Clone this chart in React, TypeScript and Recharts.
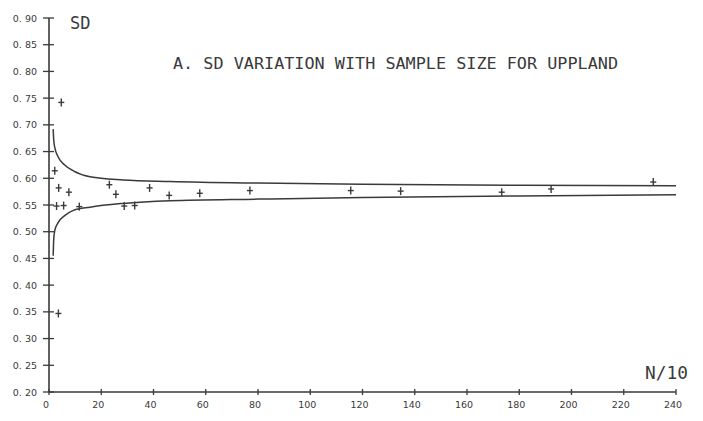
import { ComposedChart, Line, Scatter, XAxis, YAxis } from "recharts";

const xTicks = [0, 20, 40, 60, 80, 100, 120, 140, 160, 180, 200, 220, 240];
const yTicks = [0.2, 0.25, 0.3, 0.35, 0.4, 0.45, 0.5, 0.55, 0.6, 0.65, 0.7, 0.75, 0.8, 0.85, 0.9];

// observed SD per sample (N/10, SD)
const sampleN = [4.7, 2.2, 3.7, 7.6, 2.9, 5.6, 11.6, 23.1, 25.6, 28.8, 32.8, 38.5, 46.0, 57.7, 76.9, 115.5, 134.6, 173.3, 192.2, 231.3, 3.6];
const sampleSD = [0.742, 0.614, 0.582, 0.574, 0.548, 0.549, 0.547, 0.588, 0.57, 0.548, 0.549, 0.582, 0.568, 0.572, 0.577, 0.577, 0.576, 0.574, 0.58, 0.593, 0.347];

// confidence limits
const limitN = [1.6, 1.8, 2.2, 3.6, 6, 9.3, 15.7, 28.4, 46.3, 80, 120, 180, 240];
const upperSD = [0.692, 0.672, 0.658, 0.639, 0.625, 0.614, 0.603, 0.597, 0.594, 0.591, 0.589, 0.587, 0.586];
const lowerSD = [0.455, 0.485, 0.502, 0.518, 0.53, 0.54, 0.546, 0.553, 0.558, 0.561, 0.564, 0.567, 0.569];

const points = sampleN.map((n, i) => ({ x: n, y: sampleSD[i] }));
const upper = limitN.map((n, i) => ({ x: n, y: upperSD[i] }));
const lower = limitN.map((n, i) => ({ x: n, y: lowerSD[i] }));

const ink = "#3a3a3a";
const font = "'DejaVu Sans', sans-serif";

function Plus(props: any) {
  const { cx, cy } = props;
  return (
    <g stroke={ink} strokeWidth={1.4}>
      <line x1={cx - 3} x2={cx + 3} y1={cy} y2={cy} />
      <line x1={cx} x2={cx} y1={cy - 4} y2={cy + 4} />
    </g>
  );
}

function YTick(props: any) {
  const { x, y, payload } = props;
  const label = payload.value.toFixed(2).replace(".", ". ");
  return (
    <g>
      <line x1={x - 6} x2={x + 5} y1={y} y2={y} stroke={ink} strokeWidth={1.3} />
      <text x={x - 12} y={y} textAnchor="end" dominantBaseline="central" fontSize={9.5} fill={ink} fontFamily={font}>
        {label}
      </text>
    </g>
  );
}

function XTick(props: any) {
  const { x, y, payload } = props;
  return (
    <g>
      <line x1={x} x2={x} y1={y - 3} y2={y + 3} stroke={ink} strokeWidth={1.3} />
      <text x={x - 3} y={y + 12} textAnchor="middle" dominantBaseline="central" fontSize={9.5} fill={ink} fontFamily={font}>
        {payload.value}
      </text>
    </g>
  );
}

export default function App() {
  return (
    <div style={{ position: "absolute", left: 0, top: 0, background: "#fff" }}>
      <ComposedChart width={703} height={421} margin={{ top: 18, right: 27, bottom: 0, left: 0 }}>
        <XAxis
          type="number"
          dataKey="x"
          domain={[0, 240]}
          ticks={xTicks}
          height={29}
          tickSize={0}
          tickMargin={0}
          tickLine={false}
          tick={<XTick />}
          axisLine={{ stroke: ink, strokeWidth: 1.4 }}
          allowDataOverflow
        />
        <YAxis
          type="number"
          dataKey="y"
          domain={[0.2, 0.9]}
          ticks={yTicks}
          width={49}
          tickSize={0}
          tickMargin={0}
          tickLine={false}
          tick={<YTick />}
          axisLine={{ stroke: ink, strokeWidth: 1.6 }}
          allowDataOverflow
        />
        <Line data={upper} dataKey="y" type="monotone" stroke={ink} strokeWidth={1.5} dot={false} isAnimationActive={false} />
        <Line data={lower} dataKey="y" type="monotone" stroke={ink} strokeWidth={1.5} dot={false} isAnimationActive={false} />
        <Scatter data={points} dataKey="y" shape={<Plus />} isAnimationActive={false} />
        <text x={70} y={29} fontSize={17} fill={ink} fontFamily="'DejaVu Sans Mono', monospace">SD</text>
        <text x={173} y={69} fontSize={16.5} fill={ink} fontFamily="'DejaVu Sans Mono', monospace" textLength={445} lengthAdjust="spacingAndGlyphs">
          A. SD VARIATION WITH SAMPLE SIZE FOR UPPLAND
        </text>
        <text x={645} y={379} fontSize={17} fill={ink} fontFamily="'DejaVu Sans Mono', monospace" textLength={43} lengthAdjust="spacingAndGlyphs">
          N/10
        </text>
      </ComposedChart>
    </div>
  );
}
